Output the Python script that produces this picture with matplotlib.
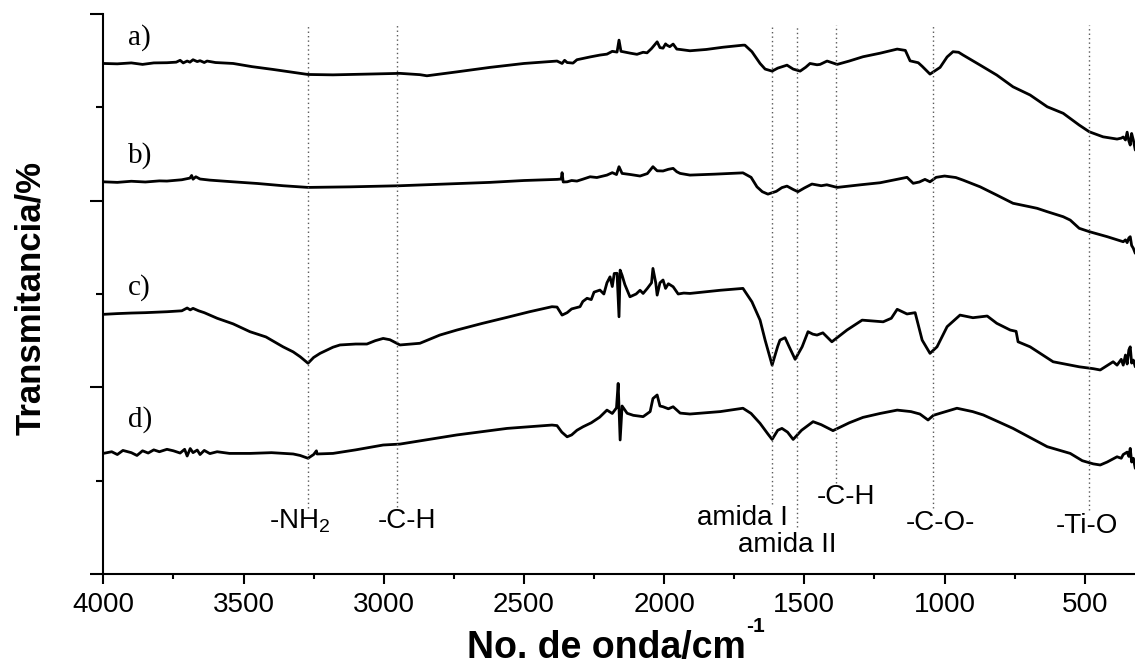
import matplotlib
matplotlib.use("Agg")
import matplotlib.pyplot as plt
from matplotlib.ticker import MultipleLocator

plt.rcParams['font.family'] = ['Liberation Sans', 'DejaVu Sans']
plt.rcParams['mathtext.fontset'] = 'custom'
plt.rcParams['mathtext.rm'] = 'Liberation Sans'
plt.rcParams['mathtext.it'] = 'Liberation Sans'
plt.rcParams['mathtext.bf'] = 'Liberation Sans:bold'

# ---------------- data (wavenumber cm-1, transmittance in arbitrary offset units) ----------------
wn_a = [4000, 3950, 3900, 3860, 3820, 3773, 3740, 3726, 3715, 3701, 3691, 3680, 3665, 3655, 3640, 3630,
        3600, 3537, 3470, 3395, 3298, 3270, 3181, 3060, 2942, 2871, 2846, 2739, 2621, 2500, 2400, 2382,
        2364, 2355, 2346, 2325, 2311, 2289, 2264, 2229, 2204, 2185, 2168, 2161, 2154, 2147, 2120, 2097,
        2075, 2061, 2045, 2025, 2015, 2004, 1995, 1990, 1980, 1968, 1955, 1943, 1908, 1850, 1790, 1719,
        1712, 1687, 1658, 1640, 1615, 1595, 1562, 1540, 1515, 1495, 1480, 1455, 1444, 1419, 1383, 1340,
        1291, 1230, 1169, 1140, 1123, 1094, 1080, 1052, 1030, 1016, 991, 970, 950, 934, 873, 814, 756,
        695, 634, 577, 520, 484, 435, 385, 370, 363, 355, 349, 343, 338, 333, 327, 320]
t_a = [2.735, 2.733, 2.738, 2.730, 2.738, 2.739, 2.742, 2.752, 2.738, 2.748, 2.742, 2.755, 2.745, 2.750,
       2.740, 2.748, 2.740, 2.735, 2.718, 2.703, 2.682, 2.676, 2.674, 2.678, 2.682, 2.675, 2.669, 2.690,
       2.714, 2.735, 2.746, 2.748, 2.735, 2.752, 2.740, 2.737, 2.755, 2.762, 2.770, 2.780, 2.785, 2.800,
       2.796, 2.860, 2.800, 2.798, 2.790, 2.784, 2.795, 2.792, 2.815, 2.851, 2.820, 2.817, 2.840, 2.833,
       2.825, 2.839, 2.812, 2.810, 2.803, 2.810, 2.822, 2.833, 2.833, 2.798, 2.735, 2.705, 2.694, 2.710,
       2.726, 2.705, 2.694, 2.715, 2.735, 2.728, 2.730, 2.748, 2.730, 2.748, 2.771, 2.790, 2.812, 2.805,
       2.749, 2.739, 2.720, 2.678, 2.700, 2.714, 2.770, 2.798, 2.795, 2.780, 2.726, 2.673, 2.610, 2.566,
       2.503, 2.468, 2.405, 2.369, 2.342, 2.330, 2.335, 2.341, 2.325, 2.367, 2.320, 2.298, 2.360, 2.325,
       2.271]

wn_b = [4000, 3950, 3900, 3850, 3800, 3773, 3720, 3691, 3685, 3680, 3670, 3655, 3620, 3537, 3450, 3359,
        3270, 3120, 2942, 2800, 2621, 2500, 2382, 2367, 2364, 2360, 2346, 2330, 2311, 2290, 2264, 2240,
        2204, 2185, 2170, 2161, 2150, 2120, 2086, 2060, 2040, 2025, 2004, 1985, 1968, 1955, 1943, 1908,
        1820, 1719, 1690, 1669, 1650, 1630, 1600, 1580, 1562, 1540, 1523, 1500, 1473, 1440, 1420, 1383,
        1300, 1230, 1134, 1112, 1090, 1070, 1052, 1030, 1000, 960, 934, 873, 814, 756, 695, 670, 634,
        577, 552, 520, 484, 420, 363, 355, 349, 343, 338, 333, 327, 320]
t_b = [2.101, 2.098, 2.104, 2.100, 2.106, 2.105, 2.112, 2.121, 2.135, 2.115, 2.128, 2.116, 2.110, 2.101,
       2.092, 2.080, 2.071, 2.074, 2.080, 2.088, 2.098, 2.108, 2.114, 2.116, 2.150, 2.100, 2.101, 2.108,
       2.105, 2.115, 2.128, 2.124, 2.137, 2.150, 2.140, 2.182, 2.146, 2.140, 2.132, 2.145, 2.182, 2.160,
       2.159, 2.168, 2.173, 2.155, 2.146, 2.137, 2.142, 2.149, 2.125, 2.074, 2.048, 2.035, 2.050, 2.070,
       2.078, 2.060, 2.048, 2.068, 2.089, 2.080, 2.085, 2.071, 2.085, 2.096, 2.125, 2.093, 2.100, 2.114,
       2.101, 2.125, 2.132, 2.124, 2.110, 2.074, 2.030, 1.986, 1.967, 1.959, 1.941, 1.914, 1.896, 1.852,
       1.834, 1.807, 1.780, 1.790, 1.775, 1.800, 1.807, 1.760, 1.745, 1.718]

wn_c = [4000, 3950, 3900, 3850, 3773, 3720, 3701, 3690, 3680, 3660, 3640, 3594, 3537, 3477, 3420, 3359,
        3323, 3298, 3270, 3250, 3227, 3181, 3156, 3100, 3060, 3030, 3002, 2978, 2942, 2871, 2800, 2739,
        2650, 2560, 2480, 2400, 2382, 2364, 2346, 2330, 2300, 2290, 2275, 2260, 2250, 2229, 2215, 2204,
        2193, 2185, 2178, 2168, 2161, 2157, 2150, 2140, 2122, 2100, 2086, 2075, 2060, 2045, 2040, 2030,
        2025, 2015, 2004, 1995, 1985, 1968, 1950, 1930, 1908, 1800, 1719, 1687, 1658, 1640, 1615, 1595,
        1587, 1569, 1555, 1533, 1508, 1487, 1470, 1455, 1434, 1402, 1348, 1294, 1219, 1190, 1169, 1134,
        1105, 1080, 1052, 1027, 991, 945, 899, 848, 814, 766, 745, 738, 695, 613, 520, 470, 445, 399,
        385, 370, 363, 355, 349, 343, 338, 333, 327, 320]
t_c = [1.391, 1.395, 1.398, 1.400, 1.405, 1.410, 1.425, 1.415, 1.423, 1.410, 1.400, 1.370, 1.340, 1.298,
       1.270, 1.217, 1.190, 1.164, 1.129, 1.160, 1.182, 1.215, 1.227, 1.232, 1.232, 1.250, 1.262, 1.255,
       1.227, 1.236, 1.280, 1.307, 1.342, 1.375, 1.405, 1.432, 1.430, 1.387, 1.400, 1.420, 1.432, 1.460,
       1.477, 1.470, 1.510, 1.521, 1.500, 1.560, 1.592, 1.540, 1.610, 1.611, 1.378, 1.628, 1.600, 1.550,
       1.485, 1.500, 1.520, 1.503, 1.530, 1.560, 1.637, 1.560, 1.494, 1.560, 1.575, 1.530, 1.555, 1.539,
       1.500, 1.505, 1.503, 1.520, 1.530, 1.458, 1.360, 1.253, 1.119, 1.220, 1.253, 1.266, 1.220, 1.150,
       1.217, 1.298, 1.285, 1.280, 1.292, 1.244, 1.307, 1.360, 1.351, 1.370, 1.418, 1.393, 1.400, 1.253,
       1.182, 1.217, 1.325, 1.387, 1.373, 1.382, 1.343, 1.307, 1.300, 1.244, 1.217, 1.137, 1.110, 1.100,
       1.093, 1.137, 1.119, 1.150, 1.119, 1.173, 1.125, 1.200, 1.217, 1.130, 1.146, 1.110]

wn_d = [4000, 3970, 3950, 3930, 3900, 3880, 3860, 3840, 3820, 3800, 3773, 3750, 3726, 3710, 3701, 3690,
        3680, 3665, 3655, 3640, 3620, 3594, 3550, 3477, 3400, 3323, 3298, 3270, 3250, 3240, 3238, 3181,
        3100, 3002, 2942, 2739, 2560, 2400, 2382, 2365, 2346, 2330, 2311, 2289, 2260, 2230, 2204, 2185,
        2170, 2164, 2157, 2150, 2132, 2110, 2075, 2050, 2040, 2025, 2015, 2004, 1985, 1968, 1943, 1908,
        1800, 1719, 1690, 1658, 1630, 1615, 1595, 1580, 1560, 1540, 1510, 1469, 1440, 1398, 1340, 1291,
        1230, 1169, 1120, 1088, 1059, 1040, 1016, 956, 900, 862, 800, 756, 700, 634, 552, 509, 470, 445,
        420, 385, 370, 363, 349, 343, 338, 333, 327, 320]
t_d = [0.646, 0.655, 0.640, 0.662, 0.650, 0.635, 0.660, 0.648, 0.665, 0.655, 0.668, 0.660, 0.648, 0.668,
       0.632, 0.672, 0.650, 0.664, 0.640, 0.662, 0.645, 0.655, 0.646, 0.646, 0.650, 0.643, 0.635, 0.620,
       0.640, 0.660, 0.643, 0.646, 0.665, 0.691, 0.696, 0.745, 0.780, 0.798, 0.795, 0.760, 0.735, 0.745,
       0.770, 0.789, 0.810, 0.840, 0.878, 0.860, 0.890, 1.021, 0.718, 0.900, 0.861, 0.850, 0.843, 0.870,
       0.940, 0.959, 0.900, 0.896, 0.885, 0.896, 0.862, 0.857, 0.870, 0.888, 0.860, 0.807, 0.750, 0.721,
       0.770, 0.780, 0.760, 0.721, 0.770, 0.816, 0.800, 0.768, 0.810, 0.839, 0.860, 0.878, 0.870, 0.857,
       0.825, 0.850, 0.861, 0.888, 0.870, 0.852, 0.810, 0.780, 0.735, 0.682, 0.646, 0.607, 0.590, 0.584,
       0.600, 0.628, 0.620, 0.640, 0.653, 0.630, 0.673, 0.600, 0.620, 0.566]

series_labels = ["a)", "b)", "c)", "d)"]
label_wn = [3912, 3912, 3912, 3912]
label_t = [2.837, 2.205, 1.498, 0.789]

# band markers
band_wn = [3270, 2953, 1616, 1527, 1388, 1040, 485]
band_bottom = [0.354, 0.359, 0.375, 0.252, 0.487, 0.354, 0.343]
band_top = 2.94
band_text = ["-NH$_{\\mathrm{2}}$", "-C-H", "amida I", "amida II", "-C-H", "-C-O-", "-Ti-O"]
band_text_x = [3299, 2917, 1722, 1560, 1351, 1014, 492]
band_text_y = [0.246, 0.246, 0.262, 0.119, 0.375, 0.236, 0.222]

# ---------------- figure ----------------
fig = plt.figure(figsize=(11.35, 6.64), dpi=100)
ax = fig.add_axes([103.3 / 1135, 90 / 664, (1135 - 103.3) / 1135, 560 / 664])

for w, t in zip([wn_a, wn_b, wn_c, wn_d], [t_a, t_b, t_c, t_d]):
    ax.plot(w, t, color='black', lw=2.0, solid_joinstyle='round', solid_capstyle='round')

for w, b in zip(band_wn, band_bottom):
    ax.plot([w, w], [b, band_top], color='0.35', lw=1.0, linestyle=(0, (1, 2.2)))

for s, x, y in zip(band_text, band_text_x, band_text_y):
    ax.text(x, y, s, ha='center', va='baseline', fontsize=20, color='black')

for s, x, y in zip(series_labels, label_wn, label_t):
    ax.text(x, y, s, ha='left', va='baseline', fontsize=21, family='Liberation Serif')

ax.set_xlim(4000, 321)
ax.set_ylim(0, 3)
ax.xaxis.set_major_locator(MultipleLocator(500))
ax.xaxis.set_minor_locator(MultipleLocator(250))
ax.yaxis.set_major_locator(MultipleLocator(1))
ax.yaxis.set_minor_locator(MultipleLocator(0.5))
ax.tick_params(axis='y', which='major', direction='out', length=9.5, width=1.5, labelleft=False)
ax.tick_params(axis='y', which='minor', direction='out', length=5, width=1.5)
ax.tick_params(axis='x', which='major', direction='out', length=7.2, width=1.5, labelsize=20, pad=6)
ax.tick_params(axis='x', which='minor', direction='out', length=3.8, width=1.5)

for side in ['top', 'right']:
    ax.spines[side].set_visible(False)
for side in ['left', 'bottom']:
    ax.spines[side].set_linewidth(1.5)

# x label: main text plus a small "-1" superscript, centred as a whole
fig.canvas.draw()
renderer = fig.canvas.get_renderer()
xl = fig.text(0, 1 - 658 / 664, "No. de onda/cm", ha='left', va='baseline',
              fontsize=27, fontweight='bold')
sup = fig.text(0, (664 - 632) / 664, "-1", ha='left', va='baseline',
               fontsize=15, fontweight='bold')
w_main = xl.get_window_extent(renderer).width
w_sup = sup.get_window_extent(renderer).width
x0 = 616 - (w_main + w_sup) / 2
xl.set_x(x0 / 1135)
sup.set_x((x0 + w_main) / 1135)

fig.text(31 / 1135, 1 - 298 / 664, "Transmitancia/%", ha='center', va='center', rotation=90,
         fontsize=25, fontweight='bold')

fig.savefig("out.png", dpi=100)
